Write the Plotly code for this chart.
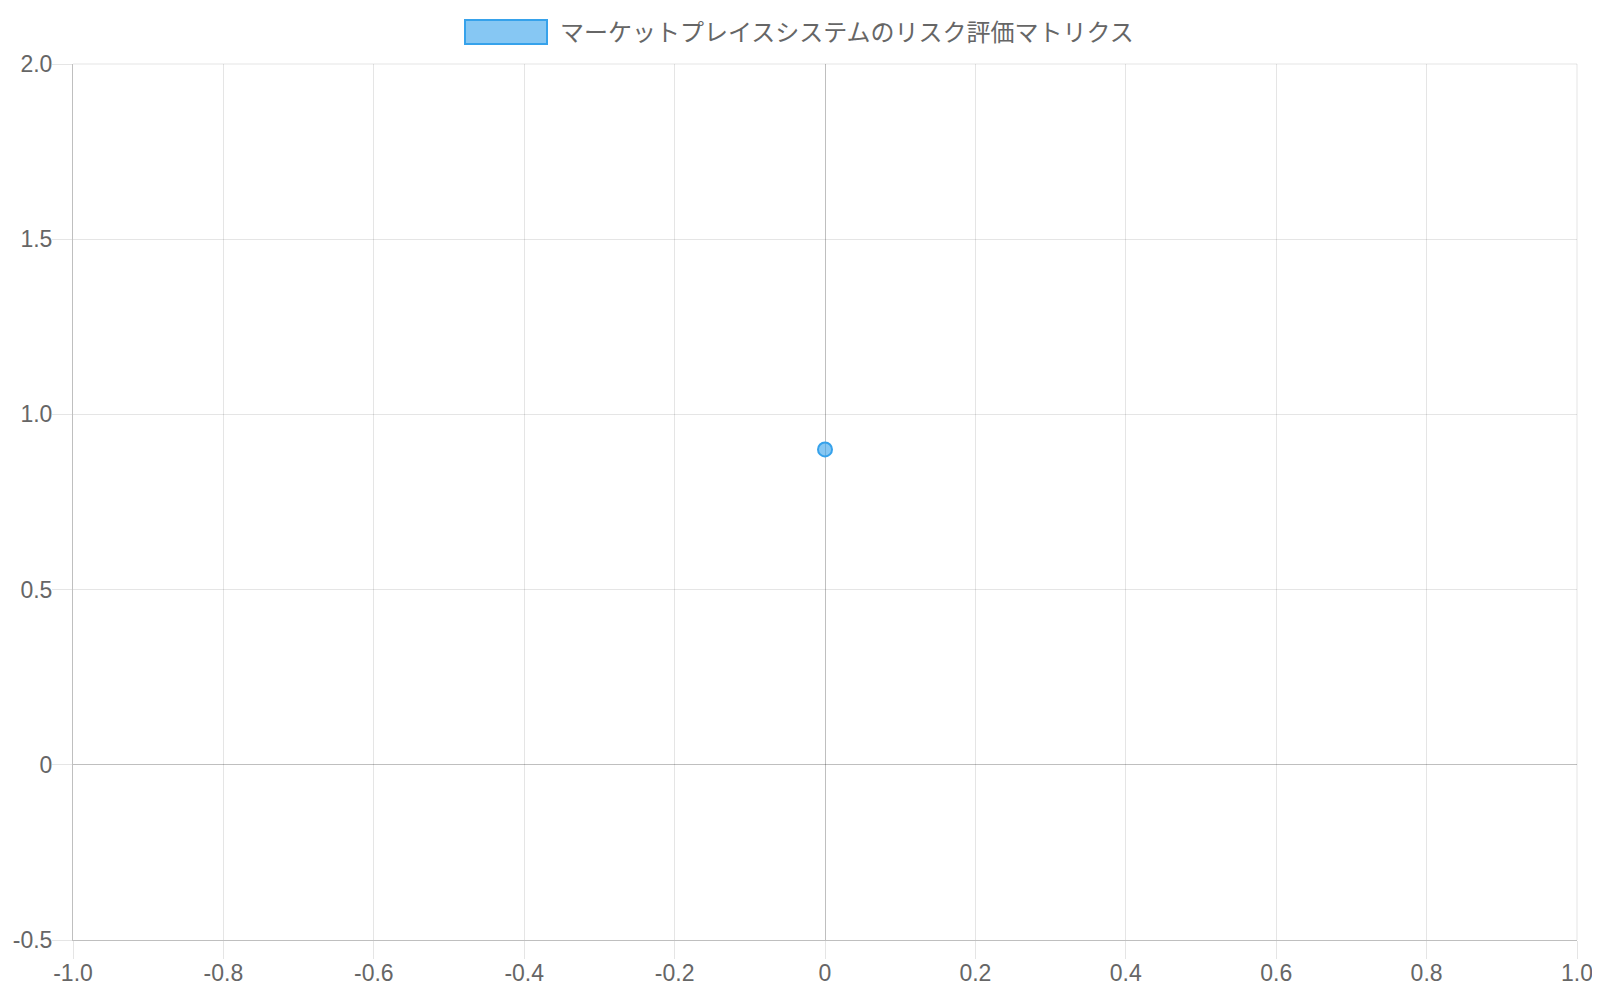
import plotly.graph_objects as go

# risk matrix data (one point)
series_name = 'マーケットプレイスシステムのリスク評価マトリクス'
x_values = [0]
y_values = [0.9]

x_ticks = [-1.0, -0.8, -0.6, -0.4, -0.2, 0, 0.2, 0.4, 0.6, 0.8, 1.0]
x_ticktext = ['-1.0', '-0.8', '-0.6', '-0.4', '-0.2', '0', '0.2', '0.4', '0.6', '0.8', '1.0']
y_ticks = [-0.5, 0, 0.5, 1.0, 1.5, 2.0]
y_ticktext = ['-0.5', '0', '0.5', '1.0', '1.5', '2.0']

W, H = 1600, 1000
OFF = 8  # page body margin in the browser
# wanted plot area on screen
X0, X1, Y0, Y1 = 73, 1577, 64, 940
L, T = X0 - OFF, Y0 - OFF
R, B = W + OFF - X1, H + OFF - Y1


def px(x):
    return (x - X0) / (X1 - X0)


def py(y):
    return (Y1 - y) / (Y1 - Y0)


font = 'Liberation Sans, Arial, Noto Sans CJK JP, sans-serif'
grid = 'rgba(0,0,0,0.1)'
dark = 'rgba(0,0,0,0.25)'
blue = 'rgb(54,162,235)'
blue_fill = 'rgba(54,162,235,0.6)'

fig = go.Figure()
fig.add_trace(go.Scatter(
    x=x_values, y=y_values, mode='markers', name=series_name,
    marker=dict(size=14, color=blue_fill, line=dict(color=blue, width=2)),
    showlegend=False,
))

axis_common = dict(
    showgrid=True, gridcolor=grid, gridwidth=1,
    zeroline=True, zerolinecolor=dark, zerolinewidth=1,
    showline=True, linecolor=dark, linewidth=1,
    ticks='outside', tickcolor=grid, tickwidth=1,
    tickfont=dict(size=23, color='#666', family=font),
    automargin=False,
)
fig.update_xaxes(range=[-1, 1], tickvals=x_ticks, ticktext=x_ticktext,
                 ticklen=18, ticklabelstandoff=-6, **axis_common)
fig.update_yaxes(range=[-0.5, 2], tickvals=y_ticks, ticktext=y_ticktext,
                 ticklen=20, ticklabelstandoff=-5, **axis_common)

# Chart.js style legend drawn above the plot
fig.add_shape(type='rect', xref='paper', yref='paper',
              x0=px(465), x1=px(547), y0=py(44), y1=py(20),
              fillcolor=blue_fill, line=dict(color=blue, width=2))
fig.add_annotation(text=series_name, xref='paper', yref='paper',
                   x=px(558), y=py(32), xanchor='left', yanchor='middle',
                   showarrow=False, font=dict(size=24, color='#666', family=font))

# right/top borders as light grid lines
fig.add_shape(type='line', xref='paper', yref='paper', x0=0, x1=1, y0=1, y1=1,
              line=dict(color=grid, width=1))
fig.add_shape(type='line', xref='paper', yref='paper', x0=1, x1=1, y0=0, y1=1,
              line=dict(color=grid, width=1))

fig.update_layout(
    width=W, height=H,
    margin=dict(l=L, r=R, t=T, b=B),
    plot_bgcolor='white', paper_bgcolor='white',
    font=dict(family=font, color='#666'),
)

fig.write_html("out.html")
